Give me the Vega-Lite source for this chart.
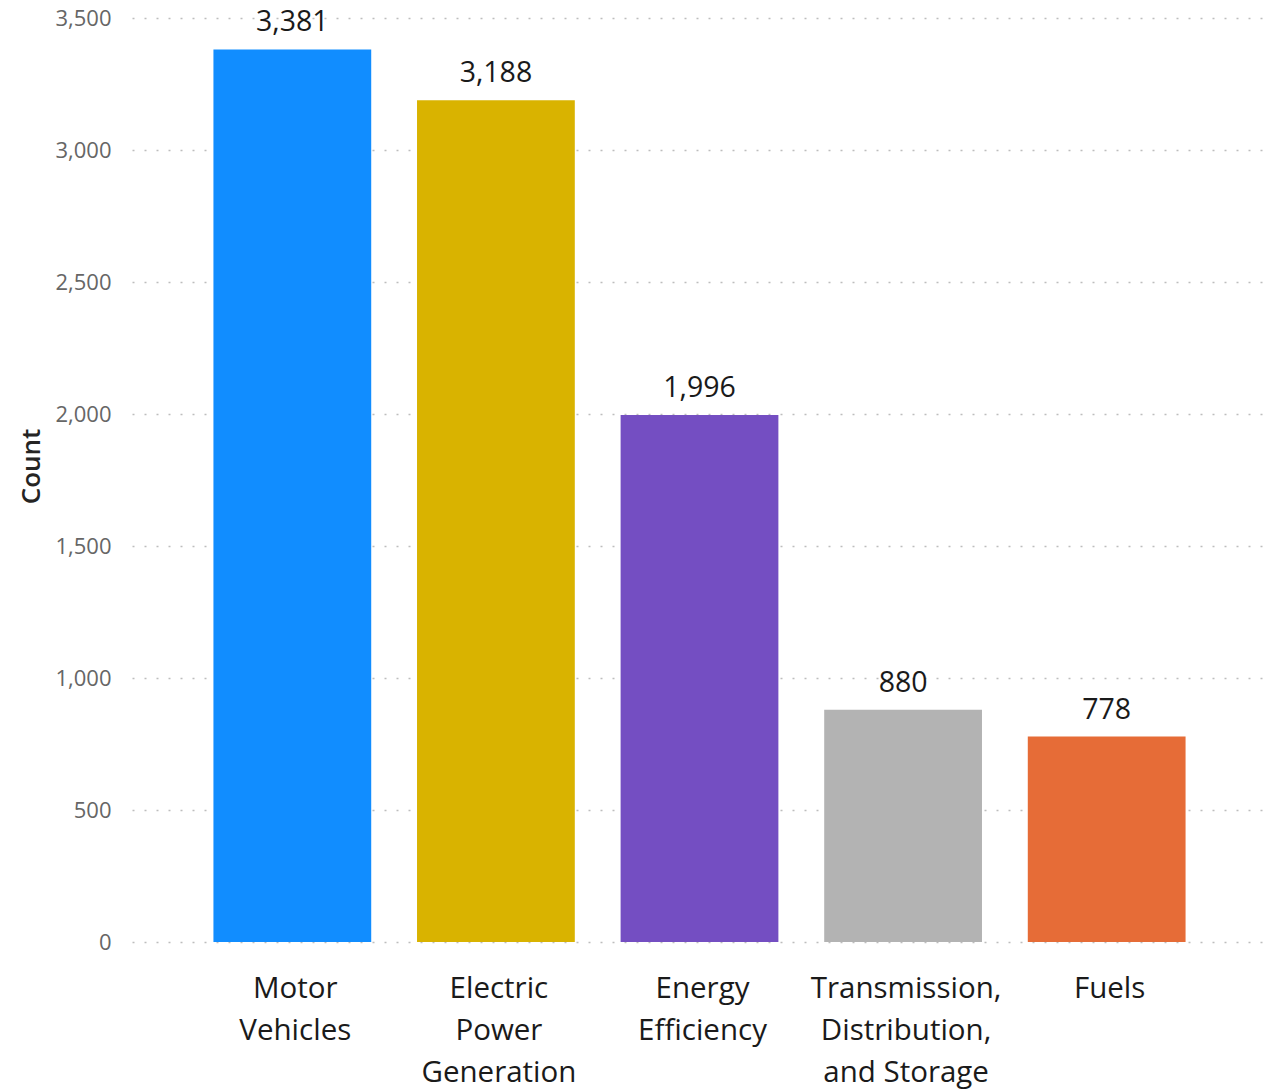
{
  "$schema": "https://vega.github.io/schema/vega-lite/v6.json",
  "width": 1135,
  "height": 924,
  "autosize": {"type": "none"},
  "padding": {"left": 132, "top": 18, "right": 2, "bottom": 149},
  "background": "white",
  "config": {
    "view": {"stroke": null},
    "font": "Open Sans"
  },
  "data": {
    "values": [
      {"category": "Motor Vehicles", "count": 3381},
      {"category": "Electric Power Generation", "count": 3188},
      {"category": "Energy Efficiency", "count": 1996},
      {"category": "Transmission, Distribution, and Storage", "count": 880},
      {"category": "Fuels", "count": 778}
    ]
  },
  "encoding": {
    "x": {
      "field": "category",
      "type": "nominal",
      "sort": null,
      "scale": {"paddingInner": 0.225, "paddingOuter": 0.4},
      "axis": {
        "title": null,
        "domain": false,
        "ticks": false,
        "labelAngle": 0,
        "labelFont": "Open Sans",
        "labelFontSize": 29.5,
        "labelColor": "#1a1a1a",
        "labelPadding": 32,
        "labelLineHeight": 42,
        "labelBaseline": "top",
        "labelLimit": 0,
        "labelOffset": 3,
        "labelExpr": "datum.value == 'Transmission, Distribution, and Storage' ? ['Transmission,', 'Distribution,', 'and Storage'] : split(datum.value, ' ')"
      }
    },
    "y": {
      "field": "count",
      "type": "quantitative",
      "scale": {"domain": [0, 3500], "nice": false},
      "axis": {
        "title": "Count",
        "values": [0, 500, 1000, 1500, 2000, 2500, 3000, 3500],
        "labelExpr": "format(datum.value, ',')",
        "domain": false,
        "ticks": false,
        "labelFont": "Open Sans",
        "labelFontSize": 22,
        "labelColor": "#666666",
        "labelPadding": 21,
        "grid": true,
        "gridColor": "#bdbdbd",
        "gridDash": [2, 10],
        "gridWidth": 1.5,
        "titleFont": "Open Sans",
        "titleFontSize": 26,
        "titleFontWeight": 600,
        "titleColor": "#252423",
        "titleAngle": 270,
        "titleX": -93,
        "titleY": 448,
        "titleAlign": "center",
        "titleBaseline": "alphabetic"
      }
    }
  },
  "layer": [
    {
      "mark": {"type": "bar"},
      "encoding": {
        "color": {
          "field": "category",
          "type": "nominal",
          "legend": null,
          "scale": {
            "domain": ["Motor Vehicles", "Electric Power Generation", "Energy Efficiency", "Transmission, Distribution, and Storage", "Fuels"],
            "range": ["#118DFF", "#D9B300", "#744EC2", "#B3B3B3", "#E66C37"]
          }
        }
      }
    },
    {
      "mark": {"type": "text", "dy": -18, "baseline": "alphabetic", "align": "center", "font": "Open Sans", "fontSize": 28.5, "color": "#1a1a1a"},
      "encoding": {
        "text": {"field": "count", "type": "quantitative", "format": ","}
      }
    }
  ]
}
